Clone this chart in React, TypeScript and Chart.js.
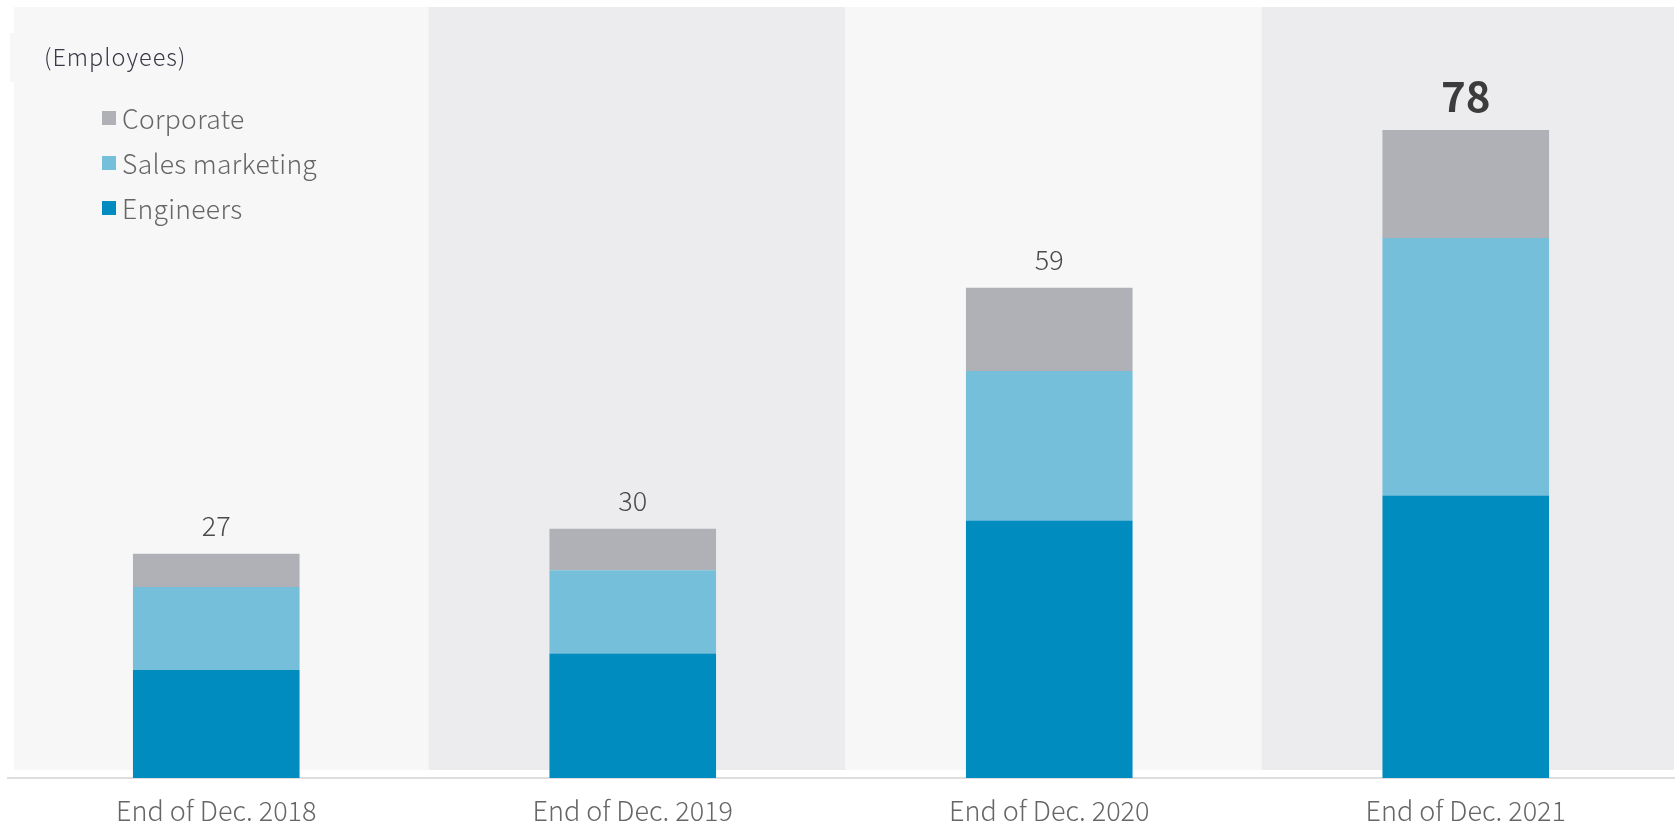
import React, { useEffect, useRef } from "react";
import { Chart, registerables } from "chart.js";

Chart.register(...registerables);

const categories = ["End of Dec. 2018", "End of Dec. 2019", "End of Dec. 2020", "End of Dec. 2021"];
const engineers = [13, 15, 31, 34];
const salesMarketing = [10, 10, 18, 31];
const corporate = [4, 5, 10, 13];
const unitLabel = "(Employees)";

const FONT = '"Noto Sans CJK JP", "Noto Sans", sans-serif';

const panelPlugin = {
  id: "panels",
  beforeDraw(chart: any) {
    const { ctx, chartArea } = chart;
    const x = chart.scales.x;
    const n = chart.data.labels.length;
    const step = (chartArea.right - chartArea.left) / n;
    ctx.save();
    for (let i = 0; i < n; i++) {
      const c = x.getPixelForValue(i);
      let l = c - step / 2 + 4;
      let r = c + step / 2 + 4;
      if (i === 0) l = chartArea.left + 6;
      if (i === n - 1) r = chartArea.right;
      ctx.fillStyle = i % 2 === 0 ? "#f7f7f7" : "#ececee";
      ctx.fillRect(l, chartArea.top, r - l, chartArea.bottom - 8 - chartArea.top);
    }
    ctx.fillStyle = "#f7f7f7";
    ctx.fillRect(chartArea.left + 2, chartArea.top + 26, 150, 49);
    ctx.restore();
  },
};

const overlayPlugin = {
  id: "overlay",
  afterDatasetsDraw(chart: any) {
    const { ctx, chartArea } = chart;
    const ds = chart.data.datasets;
    ctx.save();
    const lastMeta = chart.getDatasetMeta(ds.length - 1);
    const n = chart.data.labels.length;
    for (let i = 0; i < n; i++) {
      let total = 0;
      ds.forEach((d: any) => (total += d.data[i]));
      const el = lastMeta.data[i];
      const isLast = i === n - 1;
      ctx.fillStyle = isLast ? "#3c3c3c" : "#4a4a4a";
      ctx.font = isLast ? `bold 42px ${FONT}` : `300 27px ${FONT}`;
      ctx.textAlign = "center";
      ctx.textBaseline = "alphabetic";
      ctx.fillText(String(total), el.x, el.y - 18);
    }
    ctx.textAlign = "left";
    ctx.textBaseline = "middle";
    ctx.fillStyle = "#3a3a48";
    ctx.font = `300 23.5px ${FONT}`;
    (ctx as any).letterSpacing = "1px";
    ctx.fillText(unitLabel, chartArea.left + 36, chartArea.top + 50);
    (ctx as any).letterSpacing = "0.3px";
    const items = ds.slice().reverse();
    items.forEach((d: any, k: number) => {
      const cy = chartArea.top + 111 + k * 45;
      ctx.fillStyle = d.backgroundColor;
      ctx.fillRect(chartArea.left + 94, cy - 7, 14, 14);
      ctx.fillStyle = "#666666";
      ctx.font = `300 26.5px ${FONT}`;
      ctx.fillText(d.label, chartArea.left + 114, cy + 1);
    });
    ctx.restore();
  },
};

export default function App() {
  const ref = useRef<HTMLCanvasElement | null>(null);
  useEffect(() => {
    if (!ref.current) return;
    const chart = new Chart(ref.current, {
      type: "bar",
      data: {
        labels: categories,
        datasets: [
          { label: "Engineers", data: engineers, backgroundColor: "#008cbf" },
          { label: "Sales marketing", data: salesMarketing, backgroundColor: "#75bfda" },
          { label: "Corporate", data: corporate, backgroundColor: "#b0b1b6" },
        ],
      },
      options: {
        animation: false,
        responsive: false,
        maintainAspectRatio: false,
        layout: { padding: { left: 8, right: 5, top: 7, bottom: 3 } },
        datasets: { bar: { barPercentage: 0.4, categoryPercentage: 1 } },
        plugins: { legend: { display: false }, tooltip: { enabled: false } },
        scales: {
          x: {
            stacked: true,
            grid: { display: false, drawTicks: false },
            border: { display: true, color: "#dedede", width: 2 },
            ticks: { color: "#666666", font: { family: FONT, size: 27, weight: "300" }, padding: 17 },
            afterFit: (s: any) => {
              s.height = 47;
            },
          },
          y: {
            stacked: true,
            display: false,
            min: 0,
            max: 92.8,
          },
        },
      },
      plugins: [panelPlugin, overlayPlugin],
    });
    return () => chart.destroy();
  }, []);
  return (
    <div style={{ position: "fixed", left: 0, top: 0, width: 1679, height: 828, background: "#fff" }}>
      <canvas ref={ref} width={1679} height={828} style={{ width: 1679, height: 828, display: "block" }} />
    </div>
  );
}
